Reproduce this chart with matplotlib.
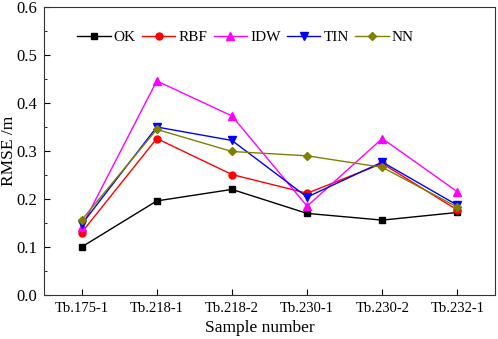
import numpy as np
import matplotlib
matplotlib.use("Agg")
import matplotlib.pyplot as plt
from matplotlib.ticker import MultipleLocator

plt.rcParams['font.family'] = ['Liberation Serif', 'DejaVu Serif']

# RMSE for each interpolation method
samples = ["Tb.175-1", "Tb.218-1", "Tb.218-2", "Tb.230-1", "Tb.230-2", "Tb.232-1"]
ok = [0.100, 0.196, 0.220, 0.170, 0.156, 0.172]
rbf = [0.130, 0.326, 0.251, 0.212, 0.274, 0.177]
idw = [0.142, 0.446, 0.373, 0.185, 0.326, 0.215]
tin = [0.147, 0.350, 0.322, 0.204, 0.277, 0.187]
nn = [0.156, 0.345, 0.299, 0.290, 0.266, 0.183]

x = np.arange(len(samples))

fig = plt.figure(figsize=(4.98, 3.39), dpi=100)
ax = fig.add_axes([0.0884, 0.1298, 0.9056, 0.8495])

ax.plot(x, ok, '-s', color='black', lw=1, ms=4.5, label='OK')
ax.plot(x, rbf, '-o', color='red', lw=1, ms=5, label='RBF')
ax.plot(x, idw, '-^', color='#ff00ff', lw=1, ms=5.5, label='IDW')
ax.plot(x, tin, '-v', color='blue', lw=1, ms=5.5, label='TIN')
ax.plot(x, nn, '-D', color='#808000', lw=1, ms=4, label='NN')

ax.set_xlim(-0.5, 5.5)
ax.set_ylim(0.0, 0.6)
ax.set_xticks(x)
ax.set_xticklabels(samples)
ax.yaxis.set_major_locator(MultipleLocator(0.1))
ax.yaxis.set_minor_locator(MultipleLocator(0.05))
ax.tick_params(axis='both', which='major', direction='in', length=4, pad=5)
ax.tick_params(axis='x', labelsize=10.5)
ax.tick_params(axis='y', labelsize=12)
ax.tick_params(axis='y', which='minor', direction='in', length=2.5)
ax.set_xlabel("Sample number", fontsize=12.5)
ax.set_ylabel("RMSE /m", fontsize=12.5)
ax.xaxis.set_label_coords(0.479, -0.088)
ax.yaxis.set_label_coords(-0.061, 0.5)
for s in ax.spines.values():
    s.set_color('#333333')

ax.legend(loc='center left', bbox_to_anchor=(0.073, 0.895), ncol=5, frameon=False,
          fontsize=11, handlelength=2.2, handletextpad=0.2, columnspacing=0.4,
          borderaxespad=0, borderpad=0)

fig.savefig("out.png", dpi=100)
